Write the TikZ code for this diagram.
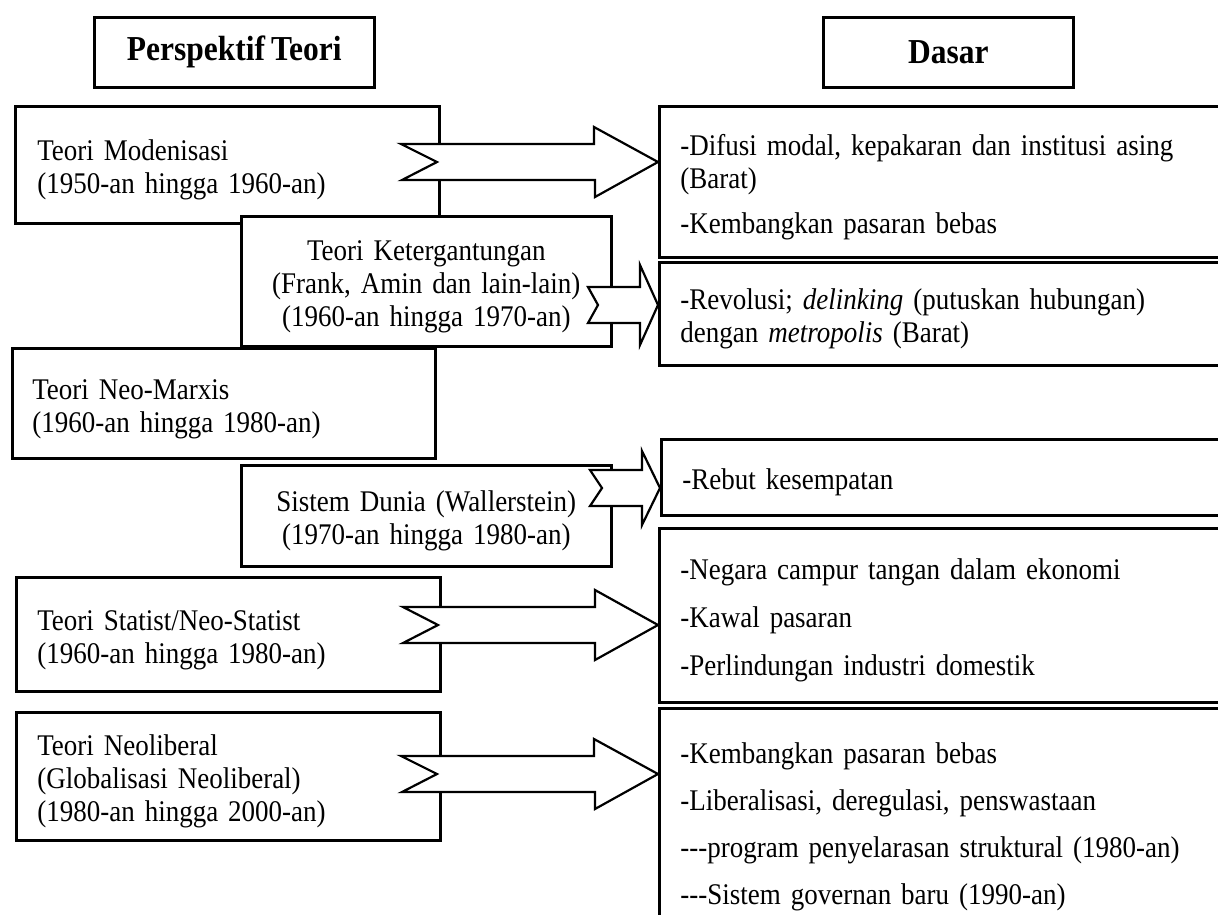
\documentclass[tikz,border=0pt]{standalone}
\usepackage{fontspec}
\setmainfont{Liberation Serif}[FakeStretch=0.9, WordSpace=0.75]
\usetikzlibrary{positioning}

\begin{document}
\begin{tikzpicture}[
    x=1pt, y=-1pt,
    line width=2.6pt,
    font=\fontsize{30}{33}\selectfont,
    judul/.style={
		rectangle,
		draw=black,
		anchor=north west,
		minimum height=70pt,
		font=\bfseries\fontsize{35}{38}\selectfont
	},
    teori/.style={
		rectangle,
		draw=black,
		fill=white,
		anchor=north west,
		align=left,
		inner xsep=22pt,
		execute at begin node={\rule{0pt}{31pt}}
	},
    tengah/.style={
		teori,
		align=center
	},
    dasar/.style={
		rectangle,
		draw=black,
		fill=white,
		anchor=north west,
		align=left,
		inner xsep=21pt,
		text width=558pt,
		execute at begin node={\rule{0pt}{31pt}}
	},
    panah/.style={
		draw=black,
		fill=white,
		line width=2.2pt,
		line join=miter
	}
  ]
  \useasboundingbox (0,0) rectangle (1218,914);
  \clip (0,0) rectangle (1218,914);

    % headings
  \node [judul, minimum width=280pt] (perspektif) at (93,16) {Perspektif Teori};
  \node [judul, minimum width=250pt] (dasarjudul) at (822,16) {Dasar};

    % theories on the left
  \node [teori, text width=380pt, minimum height=117pt] (modenisasi) at (14,105)
 {Teori Modenisasi\\(1950-an hingga 1960-an)};

  \node [tengah, text width=326pt, minimum height=130pt] (ketergantungan) at (240,215)
 {Teori Ketergantungan\\(Frank, Amin dan lain-lain)\\(1960-an hingga 1970-an)};

  \node [teori, inner xsep=20pt, text width=383pt, minimum height=110pt] (neomarxis) at (11,347)
 {Teori Neo-Marxis\\(1960-an hingga 1980-an)};

  \node [tengah, text width=326pt, minimum height=101pt] (sistemdunia) at (240,464)
 {Sistem Dunia (Wallerstein)\\(1970-an hingga 1980-an)};

  \node [teori, inner xsep=21pt, text width=382pt, minimum height=114pt] (statist) at (15,576)
 {Teori Statist/Neo-Statist\\(1960-an hingga 1980-an)};

  \node [teori, inner xsep=21pt, text width=382pt, minimum height=128pt] (neoliberal) at (15,711)
 {Teori Neoliberal\\(Globalisasi Neoliberal)\\(1980-an hingga 2000-an)};

    % bases on the right
  \node [dasar, minimum height=151pt] (difusi) at (658,105)
 {-Difusi modal, kepakaran dan institusi asing\\(Barat)\\[12pt]-Kembangkan pasaran bebas};

  \node [dasar, minimum height=103pt] (revolusi) at (658,261)
 {-Revolusi; \textit{delinking} (putuskan hubungan)\\dengan \textit{metropolis} (Barat)};

  \node [dasar, minimum height=76pt] (rebut) at (660,438)
 {-Rebut kesempatan};

  \node [dasar, minimum height=174pt] (negara) at (658,527)
 {-Negara campur tangan dalam ekonomi\\[15pt]-Kawal pasaran\\[15pt]-Perlindungan industri domestik};

  \node [dasar, minimum height=226pt] (pasaran) at (658,707)
 {-Kembangkan pasaran bebas\\[14pt]-Liberalisasi, deregulasi, penswastaan\\[14pt]-{}-{}-program penyelarasan struktural (1980-an)\\[14pt]-{}-{}-Sistem governan baru (1990-an)};

    % block arrows
  \coordinate (ekor1) at (437,162);
  \coordinate (ekor2) at (598,305);
  \coordinate (ekor3) at (602,488);
  \coordinate (ekor4) at (438,625);
  \coordinate (ekor5) at (437,774);

 \draw [panah] (ekor1) -- ++(-36,-18) -- ++(193,0) -- ++(0,-17) -- (difusi.west |- ekor1) -- ++(-63,35) -- ++(0,-17) -- ++(-193,0) -- cycle;
 \draw [panah] (ekor2) -- ++(-10,-18) -- ++(52,0) -- ++(0,-22) -- (revolusi.west |- ekor2) -- ++(-18,40) -- ++(0,-22) -- ++(-52,0) -- cycle;
 \draw [panah] (ekor3) -- ++(-12,-18) -- ++(52,0) -- ++(0,-19) -- (rebut.west |- ekor3) -- ++(-18,37) -- ++(0,-19) -- ++(-52,0) -- cycle;
 \draw [panah] (ekor4) -- ++(-35,-18) -- ++(192,0) -- ++(0,-17) -- (negara.west |- ekor4) -- ++(-63,35) -- ++(0,-17) -- ++(-192,0) -- cycle;
 \draw [panah] (ekor5) -- ++(-36,-18) -- ++(193,0) -- ++(0,-17) -- (pasaran.west |- ekor5) -- ++(-63,35) -- ++(0,-17) -- ++(-193,0) -- cycle;

\end{tikzpicture}
\end{document}
